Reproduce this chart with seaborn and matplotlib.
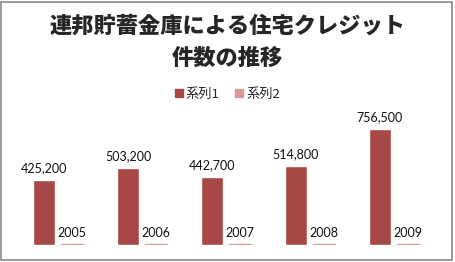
import matplotlib
matplotlib.use("Agg")
import matplotlib.pyplot as plt
import seaborn as sns
import pandas as pd
from matplotlib.patches import Rectangle

title = "連邦貯蓄金庫による住宅クレジット\n件数の推移"
categories = ["1", "2", "3", "4", "5"]
series_names = ["系列1", "系列2"]
series1 = [425200, 503200, 442700, 514800, 756500]
series2 = [2005, 2006, 2007, 2008, 2009]
colors = ["#A84846", "#D99694"]

df = pd.DataFrame({
    "cat": categories * 2,
    "series": [series_names[0]] * len(categories) + [series_names[1]] * len(categories),
    "value": series1 + series2,
})

sns.set_theme(style="white")
plt.rcParams["font.family"] = ["Lato", "Noto Sans CJK JP", "DejaVu Sans"]

fig = plt.figure(figsize=(4.55, 2.62), dpi=100)
ax = fig.add_axes([0.0352, 0.066, 0.923, 0.467])

sns.barplot(data=df, x="cat", y="value", hue="series", palette=colors,
            width=0.667, gap=0.21, ax=ax, legend=False, saturation=1)

ax.set_ylim(0, 800000)
ax.set_xlim(-0.5, 4.5)
for s in ax.spines.values():
    s.set_visible(False)
ax.set_xticks([])
ax.set_yticks([])
ax.set_xlabel("")
ax.set_ylabel("")

conts = ax.containers
for p in conts[1]:
    p.set_edgecolor(colors[1])
    p.set_linewidth(0.9)

ax.bar_label(conts[0], labels=[f"{v:,}" for v in series1], padding=4,
             fontsize=9, color="#111111")
ax.bar_label(conts[1], labels=[str(v) for v in series2], padding=4,
             fontsize=9, color="#111111")

fig.text(0.5, 0.84, title, ha="center", va="center", fontsize=16,
         fontweight="black", family=["Noto Sans CJK JP"], linespacing=1.5)

handles = [Rectangle((0, 0), 1, 1, color=c) for c in colors]
fig.legend(handles, series_names, loc="center", bbox_to_anchor=(0.5, 0.64),
           ncol=2, frameon=False, handlelength=0.6, handleheight=0.6,
           handletextpad=0.2, columnspacing=1.2,
           prop={"family": ["Noto Sans CJK JP"], "size": 9.5})

fig.patches.append(Rectangle((0.003, 0.006), 0.99, 0.988, transform=fig.transFigure,
                             fill=False, edgecolor="#888888", linewidth=1.2))

fig.savefig("out.png", dpi=100)
